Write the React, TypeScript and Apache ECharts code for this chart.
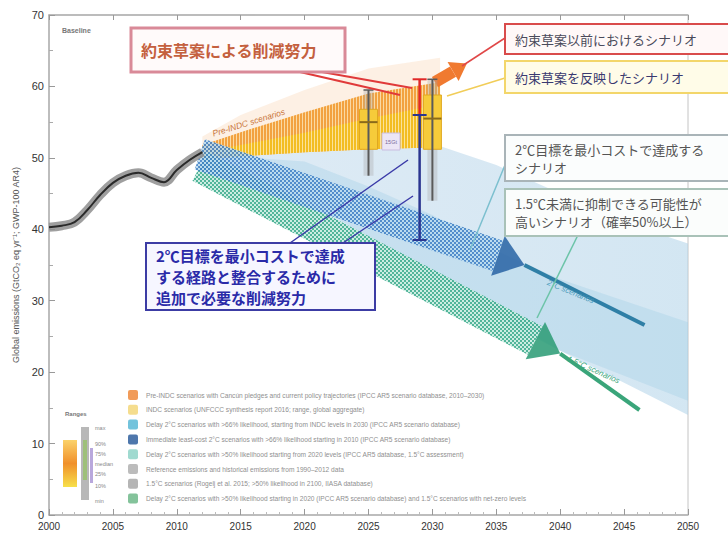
import React, { useEffect, useRef } from "react";
import * as echarts from "echarts";

// ---------- data ----------
const histYears = [2000, 2001, 2002, 2003, 2004, 2005, 2006, 2007, 2008, 2009, 2010, 2011, 2012];
const histValues = [40.3, 40.5, 41.0, 42.7, 44.8, 46.5, 47.5, 47.9, 47.2, 46.6, 48.3, 49.7, 50.8];

const preIndcYears = [2012, 2015, 2020, 2025, 2030.6];
const preIndcLow = [49.8, 50.2, 50.8, 51.2, 51.5];
const preIndcHigh = [51.8, 53.6, 56.4, 59.0, 60.6];
const preIndcHalo = [53.0, 56.0, 59.5, 62.5, 64.0];

const indcYears = [2012, 2015, 2020, 2025, 2030.6];
const indcLow = [49.8, 50.2, 50.8, 51.2, 51.5];
const indcHigh = [50.8, 51.8, 53.5, 55.5, 57.5];

const rangeYears = [2012, 2020, 2025, 2030, 2035, 2040, 2045, 2050];
const range2CHigh = [51, 53, 53, 52, 49, 45, 41, 38];
const range2CLow = [49, 44, 39, 34, 28, 23, 18.5, 14];
const range15High = [50.5, 49.5, 46, 42, 37, 33, 30, 27];
const range15Low = [48, 43, 38, 33, 27.5, 23, 19.5, 16];

const twoCArrow = [[2011.8, 50.5], [2037.2, 35.0]];
const twoCTailYears = [2037.2, 2046.6];
const twoCTailValues = [35.0, 26.6];
const onePointFiveArrow = [[2011.8, 48.8], [2040.0, 22.6]];
const onePointFiveTailYears = [2040.0, 2046.2];
const onePointFiveTailValues = [22.6, 14.7];
const preIndcArrow = [[2030.2, 60.6], [2032.7, 63.2]];

const barYears = [2025, 2030];
const barMin = [47.5, 44.0];
const barBoxLow = [51.2, 51.2];
const barMedian = [55.0, 55.5];
const barBoxHigh = [56.8, 58.8];
const barMax = [59.5, 61.0];

const gapYear = 2029;
const gapPreIndc = 61;
const gapIndc = 56;
const gap2C = 38.5;

const legendColors = ["#ee8a3c", "#f3d77a", "#5bb8d6", "#2f5f9e", "#8fd3c8", "#b0b0b0", "#a8a8a8", "#6fb98a"];
const legendTexts = [
  "Pre-INDC scenarios with Cancún pledges and current policy trajectories (IPCC AR5 scenario database, 2010–2030)",
  "INDC scenarios (UNFCCC synthesis report 2016; range, global aggregate)",
  "Delay 2°C scenarios with >66% likelihood, starting from INDC levels in 2030 (IPCC AR5 scenario database)",
  "Immediate least-cost 2°C scenarios with >66% likelihood starting in 2010 (IPCC AR5 scenario database)",
  "Delay 2°C scenarios with >50% likelihood starting from 2020 levels (IPCC AR5 database, 1.5°C assessment)",
  "Reference emissions and historical emissions from 1990–2012 data",
  "1.5°C scenarios (Rogelj et al. 2015; >50% likelihood in 2100, IIASA database)",
  "Delay 2°C scenarios with >50% likelihood starting in 2020 (IPCC AR5 scenario database) and 1.5°C scenarios with net-zero levels",
];
const rangeLabels = ["max", "90%", "75%", "median", "25%", "10%", "min"];

// ---------- helpers ----------
function makePattern(c1: string, c2: string, kind: "checker" | "stripe") {
  const cv = document.createElement("canvas");
  if (kind === "checker") {
    cv.width = 4; cv.height = 4;
    const ctx = cv.getContext("2d")!;
    ctx.fillStyle = c2; ctx.fillRect(0, 0, 4, 4);
    ctx.fillStyle = c1; ctx.fillRect(0, 0, 2, 2); ctx.fillRect(2, 2, 2, 2);
  } else {
    cv.width = 3; cv.height = 3;
    const ctx = cv.getContext("2d")!;
    ctx.fillStyle = c2; ctx.fillRect(0, 0, 3, 3);
    ctx.fillStyle = c1; ctx.fillRect(0, 0, 2, 3);
  }
  return { image: cv, repeat: "repeat" };
}

function band(xs: number[], lo: number[], hi: number[], fill: any, z: number, opacity = 1) {
  return {
    type: "custom", coordinateSystem: "cartesian2d", silent: true, z, clip: true,
    data: [[xs[0], lo[0]]],
    renderItem: (_p: any, api: any) => {
      const top = xs.map((x, i) => api.coord([x, hi[i]]));
      const bot = xs.map((x, i) => api.coord([x, lo[i]])).reverse();
      return { type: "polygon", shape: { points: top.concat(bot) }, style: { fill, opacity } };
    },
  };
}

function arrow(seg: number[][], halfW: number, headHalf: number, headLen: number, bodyFill: any, headFill: any, z: number, opacity = 1) {
  return {
    type: "custom", coordinateSystem: "cartesian2d", silent: true, z, clip: false,
    data: [[seg[0][0], seg[0][1]]],
    renderItem: (_p: any, api: any) => {
      const a = api.coord(seg[0]);
      const b = api.coord(seg[1]);
      const dx = b[0] - a[0], dy = b[1] - a[1];
      const L = Math.hypot(dx, dy);
      const ux = dx / L, uy = dy / L, nx = -uy, ny = ux;
      const bx = b[0] - ux * headLen, by = b[1] - uy * headLen;
      const body = [
        [a[0] + nx * halfW, a[1] + ny * halfW], [bx + nx * halfW, by + ny * halfW],
        [bx - nx * halfW, by - ny * halfW], [a[0] - nx * halfW, a[1] - ny * halfW],
      ];
      const head = [[bx + nx * headHalf, by + ny * headHalf], b, [bx - nx * headHalf, by - ny * headHalf]];
      return {
        type: "group", children: [
          { type: "polygon", shape: { points: body }, style: { fill: bodyFill, opacity } },
          { type: "polygon", shape: { points: head }, style: { fill: headFill, opacity } },
        ],
      };
    },
  };
}

const JP = "'Noto Sans CJK JP', sans-serif";

function textBox(x: number, y: number, w: number, h: number, stroke: string, lw: number, fill: string, text: string, color: string, size: number, weight = "normal", lh = 18) {
  return [
    { type: "rect", z: 50, shape: { x, y, width: w, height: h }, style: { fill, stroke, lineWidth: lw } },
    {
      type: "text", z: 51, x: x + 10, y: y + h / 2,
      style: { text, fill: color, font: `${weight} ${size}px ${JP}`, textVerticalAlign: "middle", lineHeight: lh },
    },
  ];
}

export default function App() {
  const ref = useRef<HTMLDivElement>(null);
  useEffect(() => {
    document.body.style.margin = "0";
    const chart = echarts.init(ref.current!, null, { renderer: "svg" });

    const bluePat = makePattern("#4282c6", "#b9daef", "checker");
    const greenPat = makePattern("#3aab8c", "#c6ebde", "checker");
    const orangePat = makePattern("#f19a2e", "#fbd69c", "stripe");
    const yellowPat = makePattern("#f3c21e", "#fbe597", "stripe");

    const graphics: any[] = [];
    // legend panel
    graphics.push({ type: "rect", z: 40, shape: { x: 100, y: 386, width: 440, height: 122 }, style: { fill: "rgba(255,255,255,0.85)" } });
    legendTexts.forEach((t, i) => {
      const y = 395 + i * 14.8;
      graphics.push({ type: "rect", z: 41, shape: { x: 128, y: y - 5, width: 10, height: 10, r: 2 }, style: { fill: legendColors[i], opacity: 0.85 } });
      graphics.push({ type: "text", z: 41, x: 146, y, style: { text: t, fill: "#8f8f8f", font: "6.6px 'Liberation Sans', sans-serif", textVerticalAlign: "middle" } });
    });
    // ranges inset
    graphics.push({ type: "text", z: 41, x: 65, y: 414, style: { text: "Ranges", fill: "#777", font: "bold 6px 'Liberation Sans', sans-serif", textVerticalAlign: "middle" } });
    graphics.push({ type: "rect", z: 41, shape: { x: 63, y: 440, width: 14, height: 47 }, style: { fill: new echarts.graphic.LinearGradient(0, 0, 0, 1, [{ offset: 0, color: "#fbd26a" }, { offset: 0.5, color: "#f0902a" }, { offset: 1, color: "#f7e04a" }]) } });
    graphics.push({ type: "rect", z: 41, shape: { x: 81, y: 427, width: 8, height: 73 }, style: { fill: "#b8b8b8" } });
    graphics.push({ type: "rect", z: 42, shape: { x: 83, y: 440, width: 4, height: 40 }, style: { fill: "#9ec07a" } });
    graphics.push({ type: "rect", z: 42, shape: { x: 90, y: 448, width: 3, height: 35 }, style: { fill: "#b9a8dc" } });
    rangeLabels.forEach((t, i) => {
      const ys = [428, 444, 454, 464, 474, 486, 501];
      graphics.push({ type: "text", z: 41, x: 95, y: ys[i], style: { text: t, fill: "#888", font: "5.5px 'Liberation Sans', sans-serif", textVerticalAlign: "middle" } });
    });
    graphics.push({ type: "text", z: 41, x: 62, y: 30, style: { text: "Baseline", fill: "#777", font: "bold 7px 'Liberation Sans', sans-serif", textVerticalAlign: "middle" } });

    // fan labels
    graphics.push({ type: "text", z: 30, x: 214, y: 138, rotation: 0.3, style: { text: "Pre-INDC scenarios", fill: "#c9763c", font: "italic 8.5px 'Liberation Sans', sans-serif", textVerticalAlign: "bottom" } });
    graphics.push({ type: "text", z: 30, x: 546, y: 286, rotation: -0.39, style: { text: "2°C scenarios", fill: "#4c9cbc", font: "italic 8px 'Liberation Sans', sans-serif", textVerticalAlign: "bottom" } });
    graphics.push({ type: "text", z: 30, x: 566, y: 362, rotation: -0.42, style: { text: "1.5°C scenarios", fill: "#3aa57a", font: "italic 8px 'Liberation Sans', sans-serif", textVerticalAlign: "bottom" } });
    // small gap label
    graphics.push({ type: "rect", z: 30, shape: { x: 382, y: 133, width: 18, height: 17 }, style: { fill: "#ece6f6", stroke: "#c9bde0", lineWidth: 1 } });
    graphics.push({ type: "text", z: 31, x: 391, y: 141.5, style: { text: "15Gt", fill: "#7a6aa0", font: "5.5px 'Liberation Sans', sans-serif", textAlign: "center", textVerticalAlign: "middle" } });

    // connector lines
    const ln = (x1: number, y1: number, x2: number, y2: number, c: string, w = 1.5) =>
      graphics.push({ type: "line", z: 45, shape: { x1, y1, x2, y2 }, style: { stroke: c, lineWidth: w } });
    ln(300, 72, 400, 95, "#e03a3a", 2);
    ln(322, 72, 412, 88, "#e03a3a", 2);
    ln(505, 38, 462, 66, "#e04848", 1.5);
    ln(505, 78, 447, 96, "#f1cd58", 1.5);
    ln(505, 165, 470, 250, "#7cc0cf", 1.5);
    ln(578, 235, 537, 318, "#6cc4a8", 1.5);
    ln(290, 243, 408, 160, "#3a3aa8", 1.5);
    ln(343, 243, 413, 196, "#3a3aa8", 1.5);

    // text boxes
    graphics.push(...textBox(131, 28, 214, 44, "#d98a98", 3, "#fffafa", "約束草案による削減努力", "#c4603e", 16, "bold"));
    graphics.push(...textBox(505, 24, 232, 30, "#d94b4b", 2, "#fff8f8", "約束草案以前におけるシナリオ", "#4a4a5a", 13));
    graphics.push(...textBox(505, 61, 232, 32, "#f3d66a", 2, "#fffce8", "約束草案を反映したシナリオ", "#3a3a70", 13));
    graphics.push(...textBox(505, 135, 232, 46, "#a9b4b8", 2, "#fbfdfd", "2℃目標を最小コストで達成する\nシナリオ", "#555", 13, "normal", 18));
    graphics.push(...textBox(505, 189, 232, 47, "#a9c2b8", 2, "#fbfdfc", "1.5℃未満に抑制できる可能性が\n高いシナリオ（確率50%以上）", "#555", 13, "normal", 18));
    graphics.push(...textBox(146, 243, 229, 67, "#3c3ca4", 2, "#f6f6ff", "2℃目標を最小コストで達成\nする経路と整合するために\n追加で必要な削減努力", "#2a2aa8", 15, "bold", 21));

    const option: any = {
      animation: false,
      backgroundColor: "#ffffff",
      grid: { left: 49, right: 40, top: 15, bottom: 20, show: true, borderColor: "#c4c4c4", borderWidth: 1, backgroundColor: "transparent" },
      xAxis: [
        {
          type: "value", min: 2000, max: 2050, interval: 5,
          axisLine: { show: true, lineStyle: { color: "#b0b0b0", width: 1.5 } },
          axisTick: { show: true, inside: true, length: 6, lineStyle: { color: "#999" } },
          minorTick: { show: true, splitNumber: 5, length: 3, lineStyle: { color: "#bbb" } },
          axisLabel: { color: "#333", fontSize: 10, margin: 6, fontFamily: "'Liberation Sans', sans-serif", formatter: (v: number) => String(v) },
          splitLine: { show: false },
        },
        {
          type: "value", min: 2000, max: 2050, interval: 5, position: "top",
          axisLine: { show: true, lineStyle: { color: "#b0b0b0", width: 1.5 } },
          axisTick: { show: true, inside: true, length: 5, lineStyle: { color: "#999" } },
          axisLabel: { show: false }, splitLine: { show: false },
        },
      ],
      yAxis: {
        type: "value", min: 0, max: 70, interval: 10,
        name: "Global emissions (GtCO₂ eq yr⁻¹; GWP-100 AR4)", nameLocation: "middle", nameGap: 26, nameRotate: 90,
        nameTextStyle: { color: "#555", fontSize: 9, fontFamily: "'Liberation Sans', sans-serif" },
        axisLine: { show: true, lineStyle: { color: "#b0b0b0", width: 1.5 } },
        axisTick: { show: true, inside: true, length: 6, lineStyle: { color: "#999" } },
        minorTick: { show: true, splitNumber: 2, length: 4, lineStyle: { color: "#aaa" } },
        axisLabel: { color: "#333", fontSize: 11, margin: 5, fontFamily: "'Liberation Sans', sans-serif" },
        splitLine: { show: false },
      },
      graphic: graphics,
      series: [
        band(rangeYears, range2CLow, range2CHigh, new echarts.graphic.LinearGradient(0, 0, 1, 0, [{ offset: 0, color: "rgba(190,215,235,0.5)" }, { offset: 1, color: "rgba(175,210,232,0.55)" }]), 1),
        band(rangeYears, range15Low, range15High, "rgba(160,205,228,0.35)", 2),
        band(preIndcYears, preIndcLow, preIndcHalo, "rgba(250,222,195,0.45)", 3),
        band(preIndcYears, preIndcLow, preIndcHigh, orangePat, 4, 0.9),
        band(indcYears, indcLow, indcHigh, yellowPat, 5, 0.85),
        arrow(onePointFiveArrow, 16, 21, 28, greenPat, "#2f9d78", 6, 0.88),
        arrow(twoCArrow, 16, 21, 28, bluePat, "#2c67a6", 7, 0.88),
        arrow(preIndcArrow, 6, 11, 16, "#f07a30", "#f07a30", 8),
        {
          type: "line", z: 7, symbol: "none", silent: true,
          data: twoCTailYears.map((x, i) => [x, twoCTailValues[i]]),
          lineStyle: { color: "#2f7fa6", width: 4 },
        },
        {
          type: "line", z: 7, symbol: "none", silent: true,
          data: onePointFiveTailYears.map((x, i) => [x, onePointFiveTailValues[i]]),
          lineStyle: { color: "#3aa57a", width: 4 },
        },
        {
          type: "custom", z: 10, silent: true, coordinateSystem: "cartesian2d",
          data: barYears.map((x, i) => [x, barMin[i], barBoxLow[i], barMedian[i], barBoxHigh[i], barMax[i]]),
          renderItem: (_p: any, api: any) => {
            const x = api.value(0);
            const pMin = api.coord([x, api.value(1)]);
            const pLo = api.coord([x, api.value(2)]);
            const pMed = api.coord([x, api.value(3)]);
            const pHi = api.coord([x, api.value(4)]);
            const pMax = api.coord([x, api.value(5)]);
            return {
              type: "group", children: [
                { type: "rect", shape: { x: pMin[0] - 5, y: pMax[1], width: 10, height: pMin[1] - pMax[1] }, style: { fill: "rgba(170,170,170,0.35)" } },
                { type: "rect", shape: { x: pHi[0] - 9, y: pHi[1], width: 18, height: pLo[1] - pHi[1] }, style: { fill: "#f6cb3a", stroke: "#e0a820", lineWidth: 1 } },
                { type: "line", shape: { x1: pMin[0], y1: pMin[1], x2: pMax[0], y2: pMax[1] }, style: { stroke: "#5a5a5a", lineWidth: 2 } },
                { type: "line", shape: { x1: pMed[0] - 9, y1: pMed[1], x2: pMed[0] + 9, y2: pMed[1] }, style: { stroke: "#8a6a1a", lineWidth: 2 } },
                { type: "line", shape: { x1: pMax[0] - 5, y1: pMax[1], x2: pMax[0] + 5, y2: pMax[1] }, style: { stroke: "#5a5a5a", lineWidth: 1.5 } },
              ],
            };
          },
        },
        {
          type: "custom", z: 11, silent: true, coordinateSystem: "cartesian2d",
          data: [[gapYear, gapPreIndc, gapIndc, gap2C]],
          renderItem: (_p: any, api: any) => {
            const x = api.value(0);
            const a = api.coord([x, api.value(1)]);
            const b = api.coord([x, api.value(2)]);
            const c = api.coord([x, api.value(3)]);
            return {
              type: "group", children: [
                { type: "line", shape: { x1: a[0], y1: a[1], x2: b[0], y2: b[1] }, style: { stroke: "#e02828", lineWidth: 2.5 } },
                { type: "line", shape: { x1: a[0] - 7, y1: a[1], x2: a[0] + 7, y2: a[1] }, style: { stroke: "#e02828", lineWidth: 2 } },
                { type: "line", shape: { x1: b[0], y1: b[1], x2: c[0], y2: c[1] }, style: { stroke: "#2a3590", lineWidth: 2.5 } },
                { type: "line", shape: { x1: b[0] - 7, y1: b[1], x2: b[0] + 7, y2: b[1] }, style: { stroke: "#2a3590", lineWidth: 2 } },
                { type: "line", shape: { x1: c[0] - 7, y1: c[1], x2: c[0] + 7, y2: c[1] }, style: { stroke: "#2a3590", lineWidth: 2 } },
              ],
            };
          },
        },
        {
          type: "line", z: 12, symbol: "none", smooth: 0.4, silent: true,
          data: histYears.map((x, i) => [x, histValues[i]]),
          lineStyle: { color: "#8e8e8e", width: 9, opacity: 0.85 },
        },
        {
          type: "line", z: 13, symbol: "none", smooth: 0.4, silent: true,
          data: histYears.map((x, i) => [x, histValues[i]]),
          lineStyle: { color: "#2a2a2a", width: 2 },
        },
      ],
    };
    chart.setOption(option);
    return () => chart.dispose();
  }, []);
  return <div ref={ref} style={{ width: 728, height: 535 }} />;
}
